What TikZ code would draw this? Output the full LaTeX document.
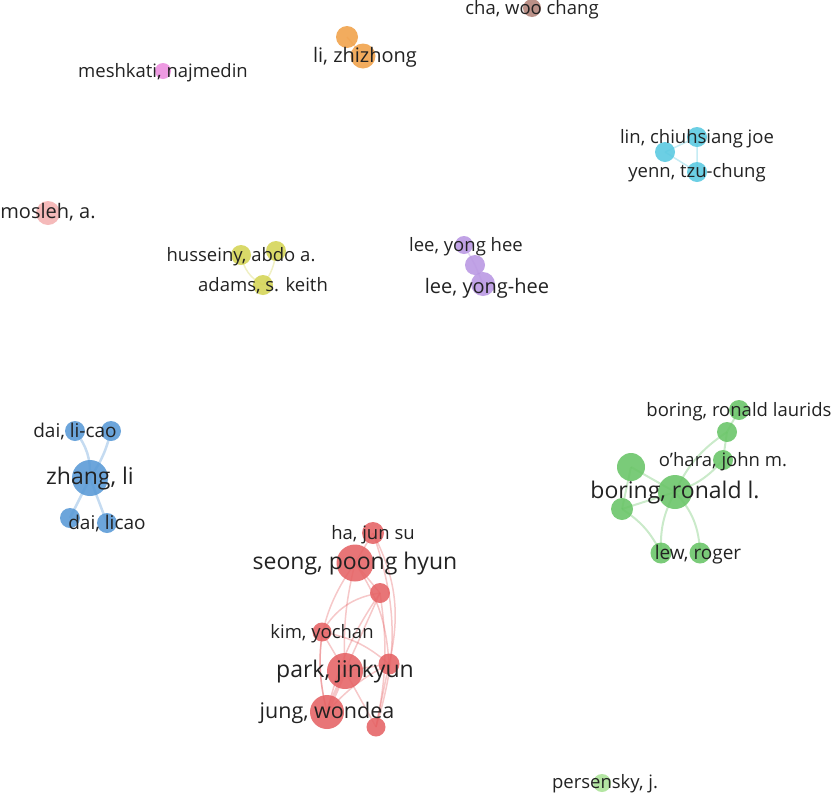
\documentclass[tikz,border=0pt]{standalone}
\usepackage{fontspec}
\setmainfont{Open Sans}
\definecolor{vosRed}{RGB}{229,98,100}
\definecolor{vosGreen}{RGB}{104,196,102}
\definecolor{vosBlue}{RGB}{88,153,214}
\definecolor{vosYellow}{RGB}{212,212,84}
\definecolor{vosPurple}{RGB}{184,150,226}
\definecolor{vosCyan}{RGB}{88,200,224}
\definecolor{vosOrange}{RGB}{240,160,72}
\definecolor{vosBrown}{RGB}{178,130,120}
\definecolor{vosPink}{RGB}{236,140,222}
\definecolor{vosSalmon}{RGB}{244,176,176}
\definecolor{vosLime}{RGB}{170,226,150}
\definecolor{vosText}{RGB}{34,34,34}

\begin{document}
\begin{tikzpicture}[x=1pt, y=-1pt,
    bubble/.style={circle, inner sep=0pt, minimum size=#1pt, fill opacity=0.88},
    link/.style={draw=#1, draw opacity=0.35, line width=1.5pt},
    lbl/.style={font=\fontsize{#1}{#1}\selectfont, inner sep=0pt,
                text height=1.2em, text depth=0pt, text=vosText}]
    \useasboundingbox (0,0) rectangle (836,801);

    % red cluster
    \coordinate (ha) at (373,533);
    \coordinate (seong) at (355,563);
    \coordinate (redA) at (380,593);
    \coordinate (kim) at (322,632);
    \coordinate (redB) at (389,664);
    \coordinate (park) at (345,671);
    \coordinate (jung) at (327,712);
    \coordinate (redC) at (376,727);
    % green cluster
    \coordinate (laurids) at (739,410);
    \coordinate (greenA) at (727,432);
    \coordinate (ohara) at (723,460);
    \coordinate (greenB) at (631,467);
    \coordinate (boring) at (675,492);
    \coordinate (greenC) at (622,509);
    \coordinate (lew) at (661,553);
    \coordinate (roger) at (700,553);
    % blue cluster
    \coordinate (daiA) at (75,431);
    \coordinate (daiB) at (111,431);
    \coordinate (zhang) at (90,478);
    \coordinate (daiC) at (70,518);
    \coordinate (daiD) at (107,523);
    % small clusters
    \coordinate (husseiny) at (241,255);
    \coordinate (husseinyB) at (276,251);
    \coordinate (adams) at (263,285);
    \coordinate (leeA) at (464,245);
    \coordinate (leeB) at (475,265);
    \coordinate (leeC) at (483,284);
    \coordinate (linA) at (665,152);
    \coordinate (lin) at (697,137);
    \coordinate (yenn) at (697,172);
    \coordinate (liA) at (347,37);
    \coordinate (li) at (363,56);
    \coordinate (cha) at (532,8);
    \coordinate (meshkati) at (163,71);
    \coordinate (mosleh) at (48,213);
    \coordinate (persensky) at (602,783);

    % links
    \begin{scope}[link=vosRed]
        \draw (seong) -- (ha);
        \draw (seong) -- (redA);
        \draw (seong) to[bend right=8] (park);
        \draw (seong) to[bend right=25] (jung);
        \draw (seong) to[bend left=15] (redB);
        \draw (ha) to[bend left=20] (redB);
        \draw (ha) to[bend left=18] (redC);
        \draw (redA) to[bend right=25] (kim);
        \draw (redA) -- (park);
        \draw (redA) to[bend right=10] (jung);
        \draw (redA) to[bend left=10] (redC);
        \draw (kim) -- (park);
        \draw (kim) to[bend right=10] (jung);
        \draw (kim) to[bend left=15] (redB);
        \draw (park) -- (redB);
        \draw (jung) to[bend left=10] (redB);
        \draw (park) -- (redC);
        \draw (redB) -- (redC);
        \draw[line width=4pt] (park) -- (jung);
    \end{scope}
    \begin{scope}[link=vosGreen, line width=2pt]
        \draw (laurids) -- (greenA);
        \draw (greenA) -- (ohara);
        \draw (boring) to[bend left=15] (greenA);
        \draw (boring) to[bend right=15] (ohara);
        \draw (boring) -- (greenB);
        \draw (boring) -- (greenC);
        \draw (greenB) -- (greenC);
        \draw (boring) to[bend right=15] (lew);
        \draw (boring) to[bend left=20] (roger);
        \draw (greenC) to[bend left=15] (lew);
    \end{scope}
    \begin{scope}[link=vosBlue, line width=2.5pt]
        \draw (zhang) to[bend right=20] (daiA);
        \draw (zhang) to[bend right=10] (daiB);
        \draw (zhang) -- (daiC);
        \draw (zhang) -- (daiD);
    \end{scope}
    \begin{scope}[line width=2.5pt]
        \draw[link=vosYellow] (husseiny) to[bend right=25] (adams);
        \draw[link=vosYellow] (husseinyB) to[bend left=15] (adams);
        \draw[link=vosPurple] (leeA) -- (leeB) -- (leeC);
        \draw[link=vosCyan] (linA) -- (lin) -- (yenn) -- (linA);
        \draw[link=vosOrange] (liA) -- (li);
    \end{scope}

    % items
    \foreach \n/\s in {ha/22, seong/37, redA/20, kim/19, redB/21, park/36, jung/34, redC/19}
        \node[bubble=\s, fill=vosRed] (\n N) at (\n) {};
    \foreach \n/\s in {laurids/20, greenA/20, ohara/20, greenB/28, boring/34, greenC/22, lew/21, roger/21}
        \node[bubble=\s, fill=vosGreen] (\n N) at (\n) {};
    \foreach \n/\s in {daiA/20, daiB/20, zhang/36, daiC/20, daiD/20}
        \node[bubble=\s, fill=vosBlue] (\n N) at (\n) {};
    \foreach \n/\s in {husseiny/20, husseinyB/20, adams/20}
        \node[bubble=\s, fill=vosYellow] (\n N) at (\n) {};
    \foreach \n/\s in {leeA/18, leeB/20, leeC/24}
        \node[bubble=\s, fill=vosPurple] (\n N) at (\n) {};
    \foreach \n in {linA, lin, yenn}
        \node[bubble=20, fill=vosCyan] (\n N) at (\n) {};
    \node[bubble=22, fill=vosOrange] (liAN) at (liA) {};
    \node[bubble=25, fill=vosOrange] (liN) at (li) {};
    \node[bubble=18, fill=vosBrown] (chaN) at (cha) {};
    \node[bubble=16, fill=vosPink] (meshkatiN) at (meshkati) {};
    \node[bubble=24, fill=vosSalmon] (moslehN) at (mosleh) {};
    \node[bubble=18, fill=vosLime] (persenskyN) at (persensky) {};

    % labels
    \node[lbl=18.5] (haL) at (ha) {ha, jun su};
    \node[lbl=23] (seongL) at (seong) {seong, poong hyun};
    \node[lbl=18.5] (kimL) at (kim) {kim, yochan};
    \node[lbl=23] (parkL) at (park) {park, jinkyun};
    \node[lbl=21.5] (jungL) at (jung) {jung, wondea};
    \node[lbl=18.5] (lauridsL) at (laurids) {boring, ronald laurids};
    \node[lbl=18.5] (oharaL) at (ohara) {o'hara, john m.};
    \node[lbl=23] (boringL) at (boring) {boring, ronald l.};
    \node[lbl=19] (lewL) at ([xshift=-2pt]roger) {lew, roger};
    \node[lbl=19] (daiAL) at (daiA) {dai, li-cao};
    \node[lbl=23] (zhangL) at (zhang) {zhang, li};
    \node[lbl=19] (daiDL) at (daiD) {dai, licao};
    \node[lbl=18.5] (husseinyL) at (husseiny) {husseiny, abdo a.};
    \node[lbl=18.5] (adamsL) at (adams) {adams, s. keith};
    \node[lbl=18.5] (leeAL) at ([xshift=2pt]leeA) {lee, yong hee};
    \node[lbl=20] (leeCL) at ([xshift=4pt, yshift=-3pt]leeC) {lee, yong-hee};
    \node[lbl=18.5] (linL) at (lin) {lin, chiuhsiang joe};
    \node[lbl=18.5] (yennL) at ([yshift=1pt]yenn) {yenn, tzu-chung};
    \node[lbl=20] (liL) at ([xshift=2pt]li) {li, zhizhong};
    \node[lbl=18.5] (chaL) at (cha) {cha, woo chang};
    \node[lbl=18.5] (meshkatiL) at (meshkati) {meshkati, najmedin};
    \node[lbl=20] (moslehL) at ([yshift=1pt]mosleh) {mosleh, a.};
    \node[lbl=18.5] (persenskyL) at ([xshift=3pt, yshift=1pt]persensky) {persensky, j.};
\end{tikzpicture}
\end{document}
